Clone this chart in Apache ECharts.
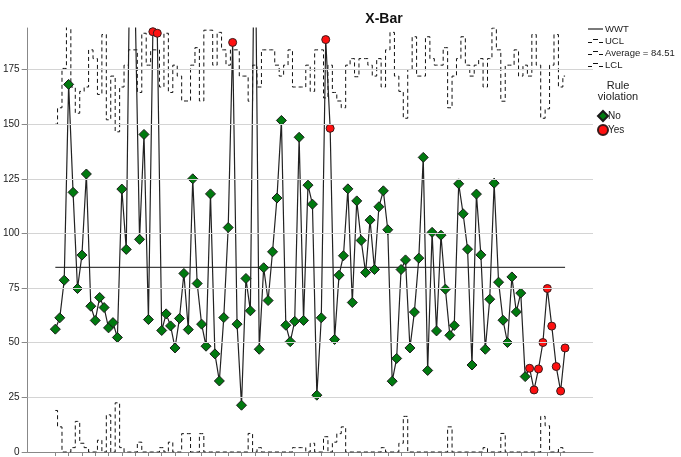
<!DOCTYPE html>
<html>
<head>
<meta charset="utf-8">
<script src="https://cdn.jsdelivr.net/npm/echarts@6/dist/echarts.min.js"></script>
<style>
  html, body { margin: 0; padding: 0; background: #fff; }
  #chart { width: 681px; height: 457px; }
</style>
</head>
<body>
<div id="chart"></div>
<script>
// subgroup means, one per sample (1..116)
var wwt = [
  56.2, 61.4, 78.6, 168.2, 118.8, 74.8, 90.1, 127.2, 66.7, 60.2,
  70.7, 66.1, 56.8, 59.2, 52.4, 120.3, 92.7, 260, 205, 97.3,
  145.3, 60.6, 192.3, 191.6, 55.6, 63.2, 57.7, 47.6, 61.1, 81.7,
  56.0, 125.0, 77.1, 58.5, 48.4, 118.1, 44.9, 32.5, 61.5, 102.7,
  187.4, 58.5, 21.4, 79.4, 64.6, 260, 47.0, 84.3, 69.3, 91.6,
  116.2, 151.7, 58.0, 50.5, 59.8, 144.0, 60.2, 122.1, 113.4, 26.0,
  61.4, 188.7, 148.1, 51.5, 80.9, 89.8, 120.4, 68.4, 114.9, 96.8,
  82.1, 106.1, 83.5, 112.2, 119.5, 101.7, 32.4, 42.8, 83.5, 87.9,
  47.6, 64.0, 88.7, 134.8, 37.3, 100.5, 55.4, 99.2, 74.5, 53.4,
  57.9, 122.7, 109.0, 92.8, 39.8, 118.0, 90.2, 47.0, 69.9, 123.0,
  77.7, 60.3, 50.1, 80.1, 64.1, 72.7, 34.5, 38.3, 28.4, 38.0,
  50.1, 74.8, 57.6, 39.1, 27.9, 47.6
];
// samples flagged as rule violations (1-based)
var violations = [18, 19, 23, 24, 41, 46, 62, 63, 108, 109, 110, 111, 112, 113, 114, 115, 116];

var ucl = [
  150, 157.5, 175.5, 205, 167, 155, 165, 167, 184, 180,
  163.6, 191, 152, 172, 146.5, 167, 177, 184, 184, 164.5,
  191.6, 177, 184, 184, 167, 191.6, 164.5, 177, 172, 160.6,
  160.6, 177, 185, 160.6, 193, 193, 177, 192, 184, 177,
  184, 184, 172, 172, 160.5, 177, 167, 184, 184, 184,
  177, 172, 177, 184, 167, 167, 167, 177, 165, 184,
  184, 162, 177, 164.5, 160.6, 157.5, 177, 180, 171.7, 180,
  180, 177, 172, 180, 167, 184, 192, 172, 165, 152.7,
  175, 190, 172, 172, 190, 180, 177, 177, 185, 157.5,
  172, 180, 190, 177, 172, 177, 180, 167, 180, 194,
  184, 160.5, 177, 177, 184, 172, 177, 172, 191, 177,
  152.7, 157, 177, 191, 167, 172
];
var lcl = [
  19, 11.5, 0, 0, 2, 14, 4, 2, 0, 0,
  5.4, 0, 17, 0, 22.5, 2, 0, 0, 0, 4.5,
  0, 0, 0, 0, 2, 0, 4.5, 0, 0, 8.4,
  8.4, 0, 0, 8.4, 0, 0, 0, 0, 0, 0,
  0, 0, 0, 0, 8.5, 0, 2, 0, 0, 0,
  0, 0, 0, 0, 2, 2, 2, 0, 4, 0,
  0, 7, 0, 4.5, 8.4, 11.5, 0, 0, 0, 0,
  0, 0, 0, 0, 2, 0, 0, 0, 4, 16.3,
  0, 0, 0, 0, 0, 0, 0, 0, 0, 11.5,
  0, 0, 0, 0, 0, 0, 0, 2, 0, 0,
  0, 8.5, 0, 0, 0, 0, 0, 0, 0, 0,
  16.3, 12, 0, 0, 2, 0
];
var average = 84.51;
var yTicks = [0, 25, 50, 75, 100, 125, 150, 175];

var font = 'Liberation Sans, Arial, sans-serif';
function pairs(arr) { return arr.map(function (v, i) { return [i + 1, v]; }); }
var xTicks = [];
for (var t = 1; t <= wwt.length; t += 3) xTicks.push(t);

var noPts = [], yesPts = [];
wwt.forEach(function (v, i) {
  (violations.indexOf(i + 1) >= 0 ? yesPts : noPts).push([i + 1, v]);
});

// legend glyphs: plain line and a small dashed step
var solidIcon = 'path://M0,0H15V1.2H0Z';
var stepIcon = 'path://M0,3H4V4.2H0ZM5,0H10V1.2H5ZM11,3H15V4.2H11Z';

var chart = echarts.init(document.getElementById('chart'));
chart.setOption({
  animation: false,
  textStyle: { fontFamily: font },
  title: [
    { text: 'X-Bar', left: 379, top: 7, textAlign: 'center',
      textStyle: { fontSize: 14, fontWeight: 'bold', color: '#111', fontFamily: font } },
    { text: 'Rule\nviolation', left: 613, top: 75, textAlign: 'center',
      textStyle: { fontSize: 11, fontWeight: 'normal', color: '#222', lineHeight: 11, fontFamily: font } }
  ],
  legend: [
    { orient: 'vertical', left: 583, top: 18, itemWidth: 15, itemHeight: 8, itemGap: 0,
      data: [
        { name: 'WWT', icon: solidIcon },
        { name: 'UCL', icon: stepIcon },
        { name: 'Average = 84.51', icon: stepIcon },
        { name: 'LCL', icon: stepIcon }
      ],
      textStyle: { fontSize: 9.5, color: '#222', lineHeight: 12, padding: [0, 0, 0, -3] } },
    { orient: 'vertical', left: 592, top: 105, itemWidth: 10, itemHeight: 10, itemGap: 2,
      data: ['No', 'Yes'],
      textStyle: { fontSize: 10, color: '#222', lineHeight: 10, padding: [0, 0, 0, -5] } }
  ],
  grid: { left: 27, right: 88, top: 28, bottom: 5 },
  xAxis: {
    type: 'value', min: -5.24, max: 122.3,
    axisLine: { onZero: false, lineStyle: { color: '#888', width: 1 } },
    axisTick: { show: true, length: 4, customValues: xTicks, lineStyle: { color: '#888' } },
    axisLabel: { show: false },
    splitLine: { show: false }
  },
  yAxis: {
    type: 'value', min: 0, max: 194,
    axisLine: { show: true, onZero: false, lineStyle: { color: '#888', width: 1 } },
    axisTick: { show: true, length: 6, customValues: yTicks, lineStyle: { color: '#888' } },
    axisLabel: { customValues: yTicks, fontSize: 10, color: '#222', margin: 8, fontFamily: font },
    splitLine: { show: false }
  },
  series: [
    { name: 'WWT', type: 'line', data: pairs(wwt), symbol: 'none', z: 3,
      lineStyle: { color: '#222', width: 1.2 }, itemStyle: { color: '#222' },
      markLine: {
        silent: true, symbol: 'none', label: { show: false }, animation: false,
        lineStyle: { color: '#d4d4d4', type: 'solid', width: 1.2 },
        data: yTicks.slice(1).map(function (v) { return { yAxis: v }; })
      } },
    { name: 'UCL', type: 'line', data: pairs(ucl), step: 'middle', symbol: 'none', z: 2,
      lineStyle: { color: '#111', width: 1, type: [4, 3] }, itemStyle: { color: '#111' } },
    { name: 'Average = 84.51', type: 'line', data: [[1, average], [wwt.length, average]],
      symbol: 'none', z: 2, lineStyle: { color: '#111', width: 1 }, itemStyle: { color: '#111' } },
    { name: 'LCL', type: 'line', data: pairs(lcl), step: 'middle', symbol: 'none', z: 2,
      lineStyle: { color: '#111', width: 1, type: [4, 3] }, itemStyle: { color: '#111' } },
    { name: 'No', type: 'scatter', data: noPts, symbol: 'diamond', symbolSize: 10, z: 4,
      itemStyle: { color: '#007a0f', borderColor: '#1a1a1a', borderWidth: 1, opacity: 1 } },
    { name: 'Yes', type: 'scatter', data: yesPts, symbol: 'circle', symbolSize: 8, z: 4,
      itemStyle: { color: '#ff1010', borderColor: '#3a1a1a', borderWidth: 1, opacity: 1 } }
  ]
});
</script>
</body>
</html>
